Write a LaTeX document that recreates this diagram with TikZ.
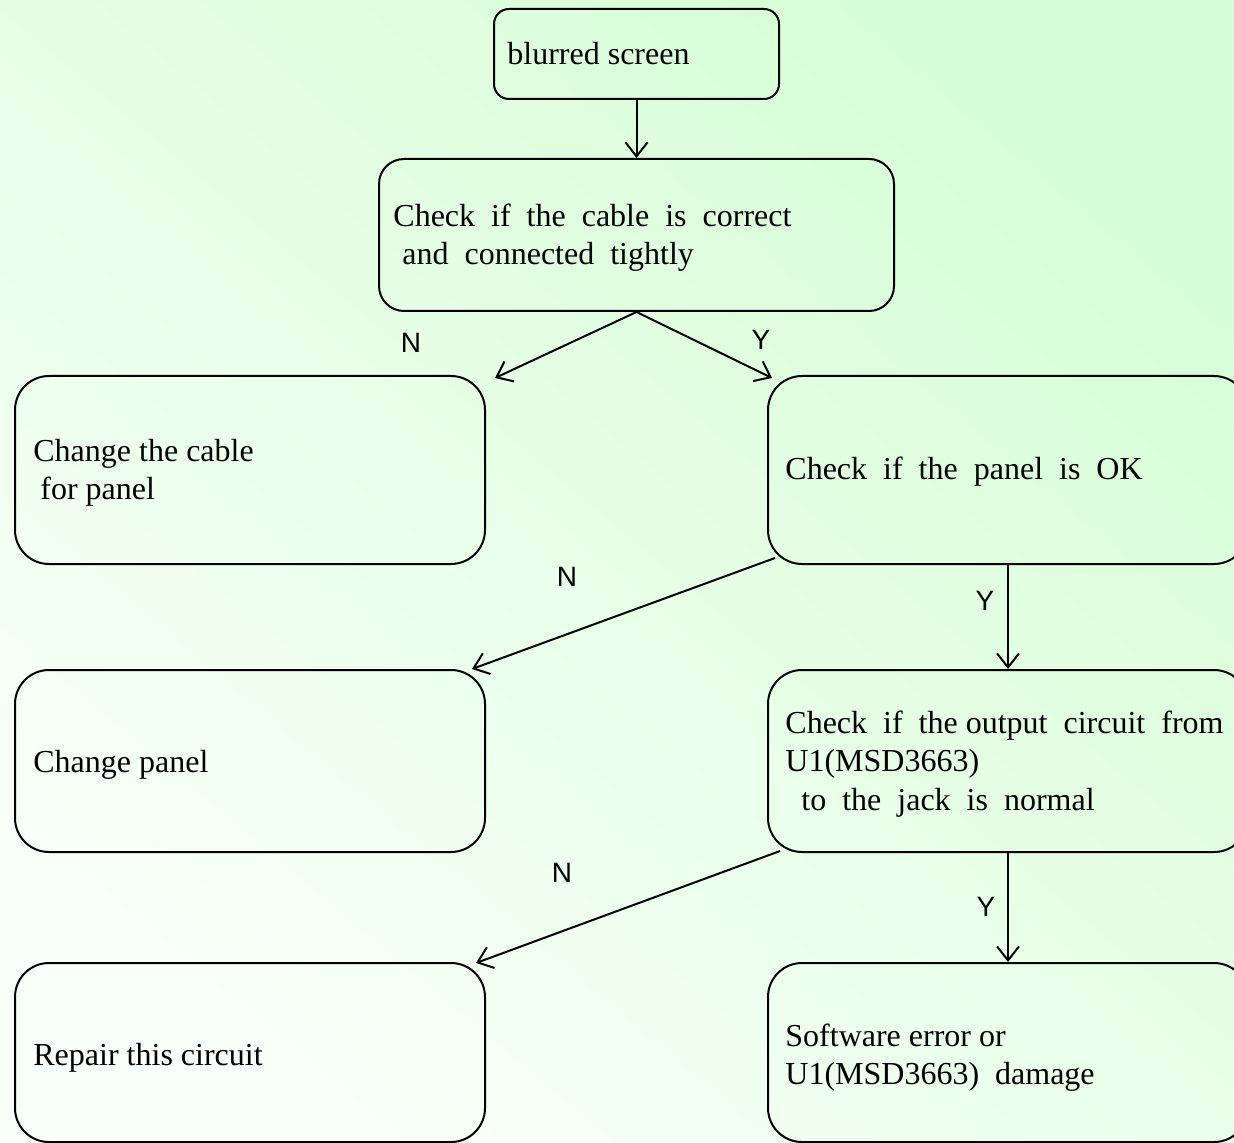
\documentclass[tikz,border=0pt]{standalone}
\usepackage{fontspec}
\setmainfont{Liberation Serif}
\newfontfamily\lblfont{Liberation Sans}
\usetikzlibrary{arrows.meta}
\definecolor{bgtop}{HTML}{D6FED6}
\definecolor{bgbot}{HTML}{F9FFF9}
\begin{document}
\begin{tikzpicture}[x=0.5pt,y=-0.5pt,
  box/.style={draw=black, line width=1pt, rectangle, anchor=north west, inner sep=0pt},
  txt/.style={anchor=base west, inner sep=0pt, font=\fontsize{16pt}{19pt}\selectfont, align=left},
  lbl/.style={inner sep=0pt, font=\lblfont\fontsize{14pt}{16pt}\selectfont},
  conn/.style={draw=black, line width=1pt, -{Straight Barb[length=7pt,width=11pt,line width=1pt]}}]
\useasboundingbox (0,0) rectangle (1234,1143);
\clip (0,0) rectangle (1234,1143);
\shade[top color=bgtop, bottom color=bgbot, shading angle=-40] (0,0) rectangle (1234,1143);
% boxes
\node[box, rounded corners=15*0.5pt, minimum width=285*0.5pt, minimum height=90*0.5pt] (blur) at (493,8) {};
\node[box, rounded corners=25*0.5pt, minimum width=515*0.5pt, minimum height=152*0.5pt] (cable) at (378,158) {};
\node[box, rounded corners=34*0.5pt, minimum width=470*0.5pt, minimum height=188*0.5pt] (cc) at (14,375) {};
\node[box, rounded corners=34*0.5pt, minimum width=480*0.5pt, minimum height=188*0.5pt] (panel) at (767,375) {};
\node[box, rounded corners=34*0.5pt, minimum width=470*0.5pt, minimum height=182*0.5pt] (cp) at (14,669) {};
\node[box, rounded corners=34*0.5pt, minimum width=480*0.5pt, minimum height=182*0.5pt] (out) at (767,669) {};
\node[box, rounded corners=34*0.5pt, minimum width=470*0.5pt, minimum height=179*0.5pt] (rep) at (14,962) {};
\node[box, rounded corners=34*0.5pt, minimum width=480*0.5pt, minimum height=179*0.5pt] (sw) at (767,962) {};
% texts (baselines)
\node[txt] (t1) at (507,65) {blurred screen};
\node[txt] (t2a) at (393,227) {Check~~if~~the~~cable~~is~~correct};
\node[txt] (t2b) at (402,265) {and~~connected~~tightly};
\node[txt] (t3a) at (33,462) {Change the cable};
\node[txt] (t3b) at (40,500) {for panel};
\node[txt] (t4) at (785,480) {Check~~if~~the~~panel~~is~~OK};
\node[txt] (t5) at (33,772) {Change panel};
\node[txt] (t6a) at (785,733) {Check~~if~~the output~~circuit~~from};
\node[txt] (t6b) at (785,771) {U1(MSD3663)};
\node[txt] (t6c) at (801,810) {to~~the~~jack~~is~~normal};
\node[txt] (t7) at (33,1065) {Repair this circuit};
\node[txt] (t8a) at (785,1046) {Software error or};
\node[txt] (t8b) at (785,1084) {U1(MSD3663)~~damage};
% labels
\node[lbl] (n1) at (411,343) {N};
\node[lbl] (y1) at (761,340) {Y};
\node[lbl] (n2) at (567,577) {N};
\node[lbl] (y2) at (985,601) {Y};
\node[lbl] (n3) at (562,873) {N};
\node[lbl] (y3) at (986,907) {Y};
% connectors
\draw[conn] (blur.south) -- (cable.north);
\draw[conn] (cable.south) -- ([shift={(9,3)}]cc.north east);
\draw[conn] (cable.south) -- ([shift={(5,3)}]panel.north west);
\draw[conn] ([shift={(8,-7)}]panel.south west) -- ([shift={(-14,0)}]cp.north east);
\draw[conn] (panel.south) -- (out.north);
\draw[conn] ([shift={(13,-2)}]out.south west) -- ([shift={(-10,1)}]rep.north east);
\draw[conn] (out.south) -- (sw.north);
\end{tikzpicture}
\end{document}
